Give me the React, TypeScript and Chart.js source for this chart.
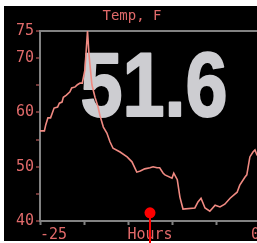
import React, { useEffect, useRef } from "react";
import { Chart, registerables } from "chart.js";

Chart.register(...registerables);

// ---- data ----
const hours: number[] = [
  -25, -24.5, -24.35, -24.1, -23.8, -23.6, -23.4, -23.0, -22.8, -22.5, -22.35, -22.0, -21.6, -21.4,
  -21.0, -20.75, -20.45, -20.2, -19.9, -19.6, -19.5, -19.43, -19.1, -18.75, -18.4, -18.2, -17.8,
  -17.4, -17.05, -16.7, -15.9, -15.1, -14.55, -14.0, -13.6, -13.1, -12.5, -12.15, -11.7, -11.4,
  -11.0, -10.8, -10.0, -9.8, -9.4, -9.1, -8.75, -7.4, -7.05, -6.7, -6.25, -5.7, -5.1, -4.55, -4.0,
  -3.4, -2.6, -2.3, -1.7, -1.5, -1.15, -0.8, -0.57, -0.35, 0,
];
const temps: number[] = [
  56.6, 56.6, 57.7, 59.0, 59.0, 59.9, 60.8, 61.0, 61.7, 61.9, 62.8, 63.2, 63.8, 64.5,
  64.7, 65.1, 65.4, 65.4, 67.8, 75.0, 72.4, 70.6, 65.1, 62.8, 61.0, 59.5, 57.3,
  56.2, 54.6, 53.4, 52.7, 51.8, 50.9, 49.0, 49.2, 49.6, 49.8, 50.0, 49.8, 49.8,
  48.8, 48.5, 47.9, 48.8, 47.6, 44.4, 42.2, 42.4, 43.5, 44.2, 42.4, 41.8, 42.9, 42.6, 43.1,
  44.2, 45.3, 46.6, 48.1, 48.5, 51.8, 52.7, 53.1, 52.2, 51.6,
];
const xTickValues: number[] = [-25, -20, -15, -12.5, -10, -5, 0];
const xTickLabels: string[] = ["-25", "", "", "Hours", "", "", "0"];
const yLabelValues: number[] = [40, 50, 60, 70, 75];
const currentValue = 51.6;
const markerHour = -12.5;
const markerTemp = 41.5;
const titleText = "Temp, F";

const SALMON = "#e06a6a";
const LINE = "#f08a82";
const GRAY = "#828282";
const BIG = "#cdcdd1";

export default function App() {
  const ref = useRef<HTMLCanvasElement | null>(null);
  useEffect(() => {
    const canvas = ref.current!;
    const bg = {
      id: "bg",
      beforeDraw(c: any) {
        const ctx = c.ctx;
        ctx.save();
        ctx.fillStyle = "#000";
        ctx.fillRect(0, 0, c.width, 235);
        ctx.restore();
      },
    };
    const bigText = {
      id: "bigText",
      beforeDatasetsDraw(c: any) {
        const ctx = c.ctx;
        ctx.save();
        ctx.translate(150, 110);
        ctx.scale(0.84, 1);
        ctx.font = "bold 90px 'Liberation Sans'";
        ctx.textAlign = "center";
        ctx.textBaseline = "alphabetic";
        ctx.fillStyle = BIG;
        ctx.strokeStyle = BIG;
        ctx.lineWidth = 2;
        ctx.lineJoin = "round";
        const s = currentValue.toFixed(1);
        ctx.strokeText(s, 0, 0);
        ctx.fillText(s, 0, 0);
        ctx.restore();
      },
    };
    const markerLine = {
      id: "markerLine",
      afterDraw(c: any) {
        const ctx = c.ctx;
        const x = c.scales.x.getPixelForValue(markerHour);
        const y = c.scales.y.getPixelForValue(markerTemp);
        ctx.save();
        ctx.strokeStyle = "#ff0000";
        ctx.lineWidth = 2;
        ctx.beginPath();
        ctx.moveTo(x, y);
        ctx.lineTo(x, c.height);
        ctx.stroke();
        ctx.fillStyle = "#ff0000";
        ctx.beginPath();
        ctx.arc(x, y, 5.5, 0, Math.PI * 2);
        ctx.fill();
        ctx.restore();
      },
    };
    const chart = new Chart(canvas, {
      type: "line",
      data: {
        datasets: [
          {
            data: hours.map((h, i) => ({ x: h, y: temps[i] })),
            borderColor: LINE,
            borderWidth: 1.6,
            pointRadius: 0,
            tension: 0,
            fill: false,
          },
        ],
      },
      options: {
        animation: false,
        responsive: false,
        maintainAspectRatio: false,
        layout: { padding: { top: 0, left: 0, right: 28, bottom: 0 } },
        plugins: {
          legend: { display: false },
          tooltip: { enabled: false },
          title: {
            display: true,
            text: titleText,
            color: SALMON,
            font: { family: "'DejaVu Sans Mono'", size: 14, weight: "normal" },
            padding: { top: 2, bottom: 6.2 },
          },
        },
        scales: {
          x: {
            type: "linear",
            min: -25,
            max: 0,
            afterBuildTicks: (s: any) => {
              s.ticks = xTickValues.map((v) => ({ value: v }));
            },
            afterFit: (s: any) => {
              s.height = 22;
            },
            ticks: {
              autoSkip: false,
              maxRotation: 0,
              align: "inner",
              color: SALMON,
              padding: 1,
              font: { family: "'DejaVu Sans Mono'", size: 15 },
              callback: (v: any) => {
                const i = xTickValues.indexOf(Number(v));
                return i >= 0 ? xTickLabels[i] : "";
              },
            },
            grid: {
              drawOnChartArea: false,
              drawTicks: true,
              tickLength: 4,
              tickWidth: 2,
              tickColor: (ctx: any) => (ctx.tick && ctx.tick.value === markerHour ? "transparent" : GRAY),
            },
            border: { color: GRAY, width: 2 },
          },
          y: {
            min: 40,
            max: 75,
            afterFit: (s: any) => {
              s.width = 36;
            },
            ticks: {
              stepSize: 5,
              color: SALMON,
              padding: 2,
              font: { family: "'DejaVu Sans Mono'", size: 15 },
              callback: (v: any) => (yLabelValues.includes(Number(v)) ? String(v) : ""),
            },
            grid: {
              color: (ctx: any) => (ctx.tick && ctx.tick.value === 75 ? GRAY : "transparent"),
              lineWidth: 2,
              tickLength: 4,
              tickWidth: 1,
              tickColor: SALMON,
            },
            border: { color: GRAY, width: 2 },
          },
        },
      },
      plugins: [bg, bigText, markerLine],
    } as any);
    return () => chart.destroy();
  }, []);
  return (
    <div
      style={{
        position: "fixed",
        left: 4,
        top: 6,
        width: 253,
        height: 237,
        overflow: "hidden",
      }}
    >
      <canvas ref={ref} width={284} height={237} style={{ display: "block", width: 284, height: 237 }} />
    </div>
  );
}
